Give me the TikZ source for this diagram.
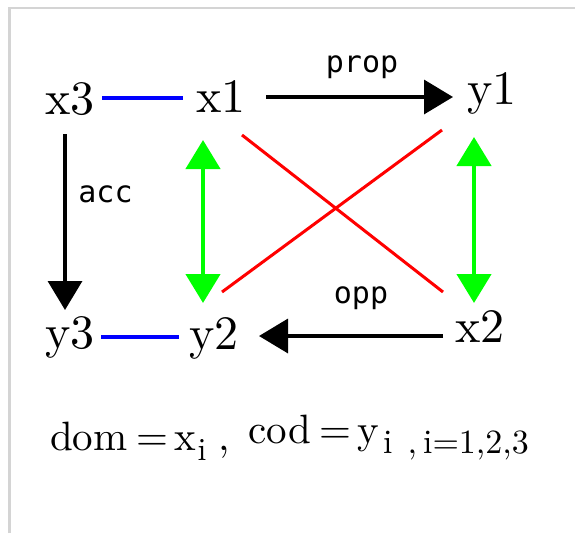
\documentclass[tikz,border=0pt]{standalone}
\usepackage{fontspec}
\newfontfamily\labelfont{DejaVu Sans Mono}
\newfontfamily\termfont{lmroman10-regular}[Extension=.otf]
\usetikzlibrary{arrows.meta,positioning,calc}
\definecolor{clLink}{HTML}{0000FF}
\definecolor{clIso}{HTML}{00FF00}
\definecolor{clCross}{HTML}{FF0000}
\definecolor{clFrame}{HTML}{D4D4D4}
\tikzset{
  term/.style={inner sep=0pt, anchor=base, font=\termfont\fontsize{48}{56}\selectfont},
  link/.style={draw=clLink, line width=4pt},
  morph/.style={-{Triangle[length=29pt,width=34pt]}, line width=3.5pt, draw=black},
  iso/.style={{Triangle[length=29pt,width=34pt]}-{Triangle[length=29pt,width=34pt]},
              line width=4.5pt, draw=clIso},
  cross/.style={draw=clCross, line width=3pt},
  morphlabel/.style={font=\labelfont\fontsize{30}{36}\selectfont, inner sep=0pt, anchor=base},
  deftext/.style={inner sep=0pt, anchor=base west, font=\termfont\fontsize{41}{48}\selectfont},
  subtext/.style={inner sep=0pt, anchor=base west, font=\termfont\fontsize{34}{40}\selectfont},
}
\begin{document}
\begin{tikzpicture}[x=1pt, y=-1pt]
  \useasboundingbox (0,0) rectangle (575,533);
  \draw[clFrame, line width=2.5pt] (9.5,533) -- (9.5,8) -- (575,8);
  % objects
  \node[term] (x3) at (70,114) {x3};
  \node[term] (x1) at (221,112) {x1};
  \node[term] (y1) at (492,104) {y1};
  \node[term] (y3) at (70,348) {y3};
  \node[term] (y2) at (214,349) {y2};
  \node[term] (x2) at (480,342) {x2};
  % arrows
  \draw[link] ([shift={(32,-16)}]x3.base) -- ([shift={(-38,-14)}]x1.base);
  \draw[link] ([shift={(31,-11)}]y3.base) -- ([shift={(-35,-12)}]y2.base);
  \draw[morph] ([shift={(45,-15)}]x1.base) -- node[morphlabel, xshift=2.5pt, yshift=25pt]{prop} ([shift={(-39,-7)}]y1.base);
  \draw[morph] ([shift={(-5,20)}]x3.base) -- node[morphlabel, xshift=40.5pt, yshift=20pt]{acc} ([shift={(-5,-38)}]y3.base);
  \draw[morph] ([shift={(-37,-6)}]x2.base) -- node[morphlabel, xshift=10pt, yshift=33pt]{opp} ([shift={(45,-13)}]y2.base);
  \draw[iso] ([shift={(-18,28)}]x1.base) -- ([shift={(-11,-46)}]y2.base);
  \draw[iso] ([shift={(-18,33)}]y1.base) -- ([shift={(-6,-39)}]x2.base);
  \draw[cross] ([shift={(21,23)}]x1.base) -- ([shift={(-37,-50)}]x2.base);
  \draw[cross] ([shift={(-50,26)}]y1.base) -- ([shift={(8,-57)}]y2.base);
  % definitions
  \node[deftext] (dom) at (50,450) {dom\hspace{9pt}=\hspace{6pt}x\hspace{1.5pt}\raisebox{-10pt}{\fontsize{32}{36}\selectfont i}\hspace{12pt},};
  \node[deftext] (cod) at (248,443) {cod\hspace{9pt}=\hspace{6pt}y};
  \node[subtext] (range) at (383,453) {i\hspace{15pt},\hspace{6pt}i=1,2,3};
\end{tikzpicture}
\end{document}
